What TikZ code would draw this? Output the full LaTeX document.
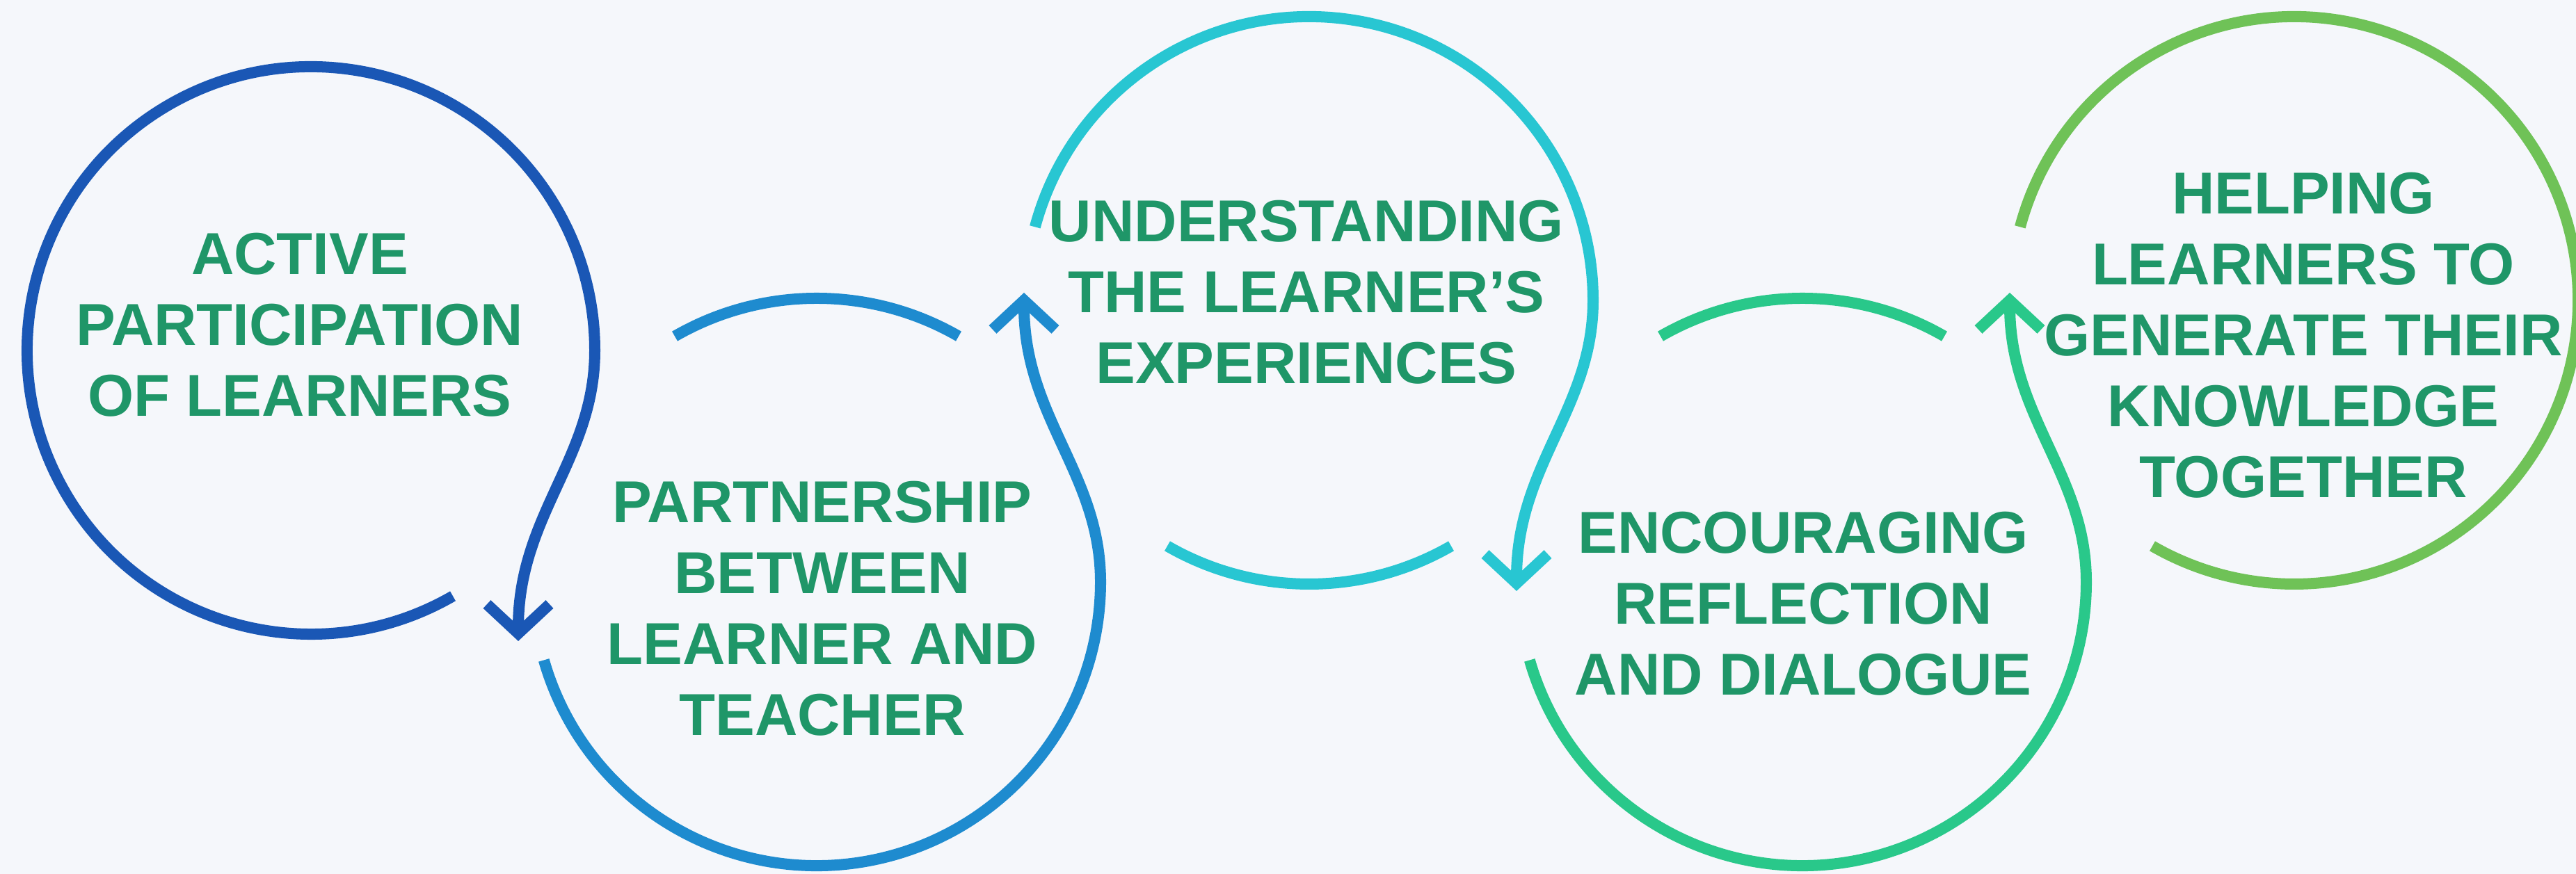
\documentclass[tikz,border=0pt]{standalone}
\usepackage{fontspec}
\setmainfont{Liberation Sans}
\usepackage{xcolor}
\usepackage{tikz}
\usetikzlibrary{calc,arrows.meta}

\definecolor{bgpale}{HTML}{F5F7FB}
\definecolor{textgreen}{HTML}{1F9668}
\definecolor{ringone}{HTML}{1A57B5}
\definecolor{ringtwo}{HTML}{1E8BCF}
\definecolor{ringthree}{HTML}{28C6D2}
\definecolor{ringfour}{HTML}{29C88A}
\definecolor{ringfive}{HTML}{6FC257}

\begin{document}
\begin{tikzpicture}[
    ring/.style={line width=0.16cm},
    ringarrow/.style={-{Straight Barb[length=4.2mm,width=9.0mm,sharp]}},
    stagetext/.style={text=textgreen, font=\bfseries\fontsize{24.2pt}{29pt}\selectfont, align=center, inner sep=0pt}
  ]
    % Background
    \fill[bgpale] (0,0) rectangle (37.03,12.57);
    \useasboundingbox (0,0) rectangle (37.03,12.57);
    \clip (0,0) rectangle (37.03,12.57);
    % Ring centres
    \coordinate (c1) at (4.47,7.53);
    \coordinate (c2) at (11.74,4.20);
    \coordinate (c3) at (18.82,8.25);
    \coordinate (c4) at (25.91,4.20);
    \coordinate (c5) at (32.98,8.25);
    % Ring 1
    \draw[ring, ringone, ringarrow] ($(c1)+(-60:4.08)$) arc[start angle=-60, end angle=-360, radius=4.08]
        .. controls ($(c1)+(4.08,-1.56)$) and ($(c1)+(2.98,-2.36)$) .. ($(c1)+(2.98,-4.18)$);
    % Ring 2
    \draw[ring, ringtwo, ringarrow] ($(c2)+(196:4.08)$) arc[start angle=196, end angle=360, radius=4.08]
        .. controls ($(c2)+(4.08,1.56)$) and ($(c2)+(2.98,2.36)$) .. ($(c2)+(2.98,4.16)$);
    \draw[ring, ringtwo] ($(c2)+(120:4.08)$) arc[start angle=120, end angle=60, radius=4.08];
    % Ring 3
    \draw[ring, ringthree, ringarrow] ($(c3)+(165:4.08)$) arc[start angle=165, end angle=0, radius=4.08]
        .. controls ($(c3)+(4.08,-1.56)$) and ($(c3)+(2.98,-2.36)$) .. ($(c3)+(2.98,-4.18)$);
    \draw[ring, ringthree] ($(c3)+(-120:4.08)$) arc[start angle=-120, end angle=-60, radius=4.08];
    % Ring 4
    \draw[ring, ringfour, ringarrow] ($(c4)+(196:4.08)$) arc[start angle=196, end angle=360, radius=4.08]
        .. controls ($(c4)+(4.08,1.56)$) and ($(c4)+(2.98,2.36)$) .. ($(c4)+(2.98,4.16)$);
    \draw[ring, ringfour] ($(c4)+(120:4.08)$) arc[start angle=120, end angle=60, radius=4.08];
    % Ring 5
    \draw[ring, ringfive] ($(c5)+(165:4.08)$) arc[start angle=165, end angle=-120, radius=4.08];
    % Stage texts
    \node[stagetext] (t1) at (4.31,7.90) {ACTIVE\\PARTICIPATION\\OF LEARNERS};
    \node[stagetext] (t2) at (11.82,3.82) {PARTNERSHIP\\BETWEEN\\LEARNER AND\\TEACHER};
    \node[stagetext] (t3) at (18.78,8.37) {UNDERSTANDING\\THE LEARNER’S\\EXPERIENCES};
    \node[stagetext] (t4) at (25.92,3.89) {ENCOURAGING\\REFLECTION\\AND DIALOGUE};
    \node[stagetext] (t5) at (33.11,7.75) {HELPING\\LEARNERS TO\\GENERATE THEIR\\KNOWLEDGE\\TOGETHER};
\end{tikzpicture}
\end{document}
